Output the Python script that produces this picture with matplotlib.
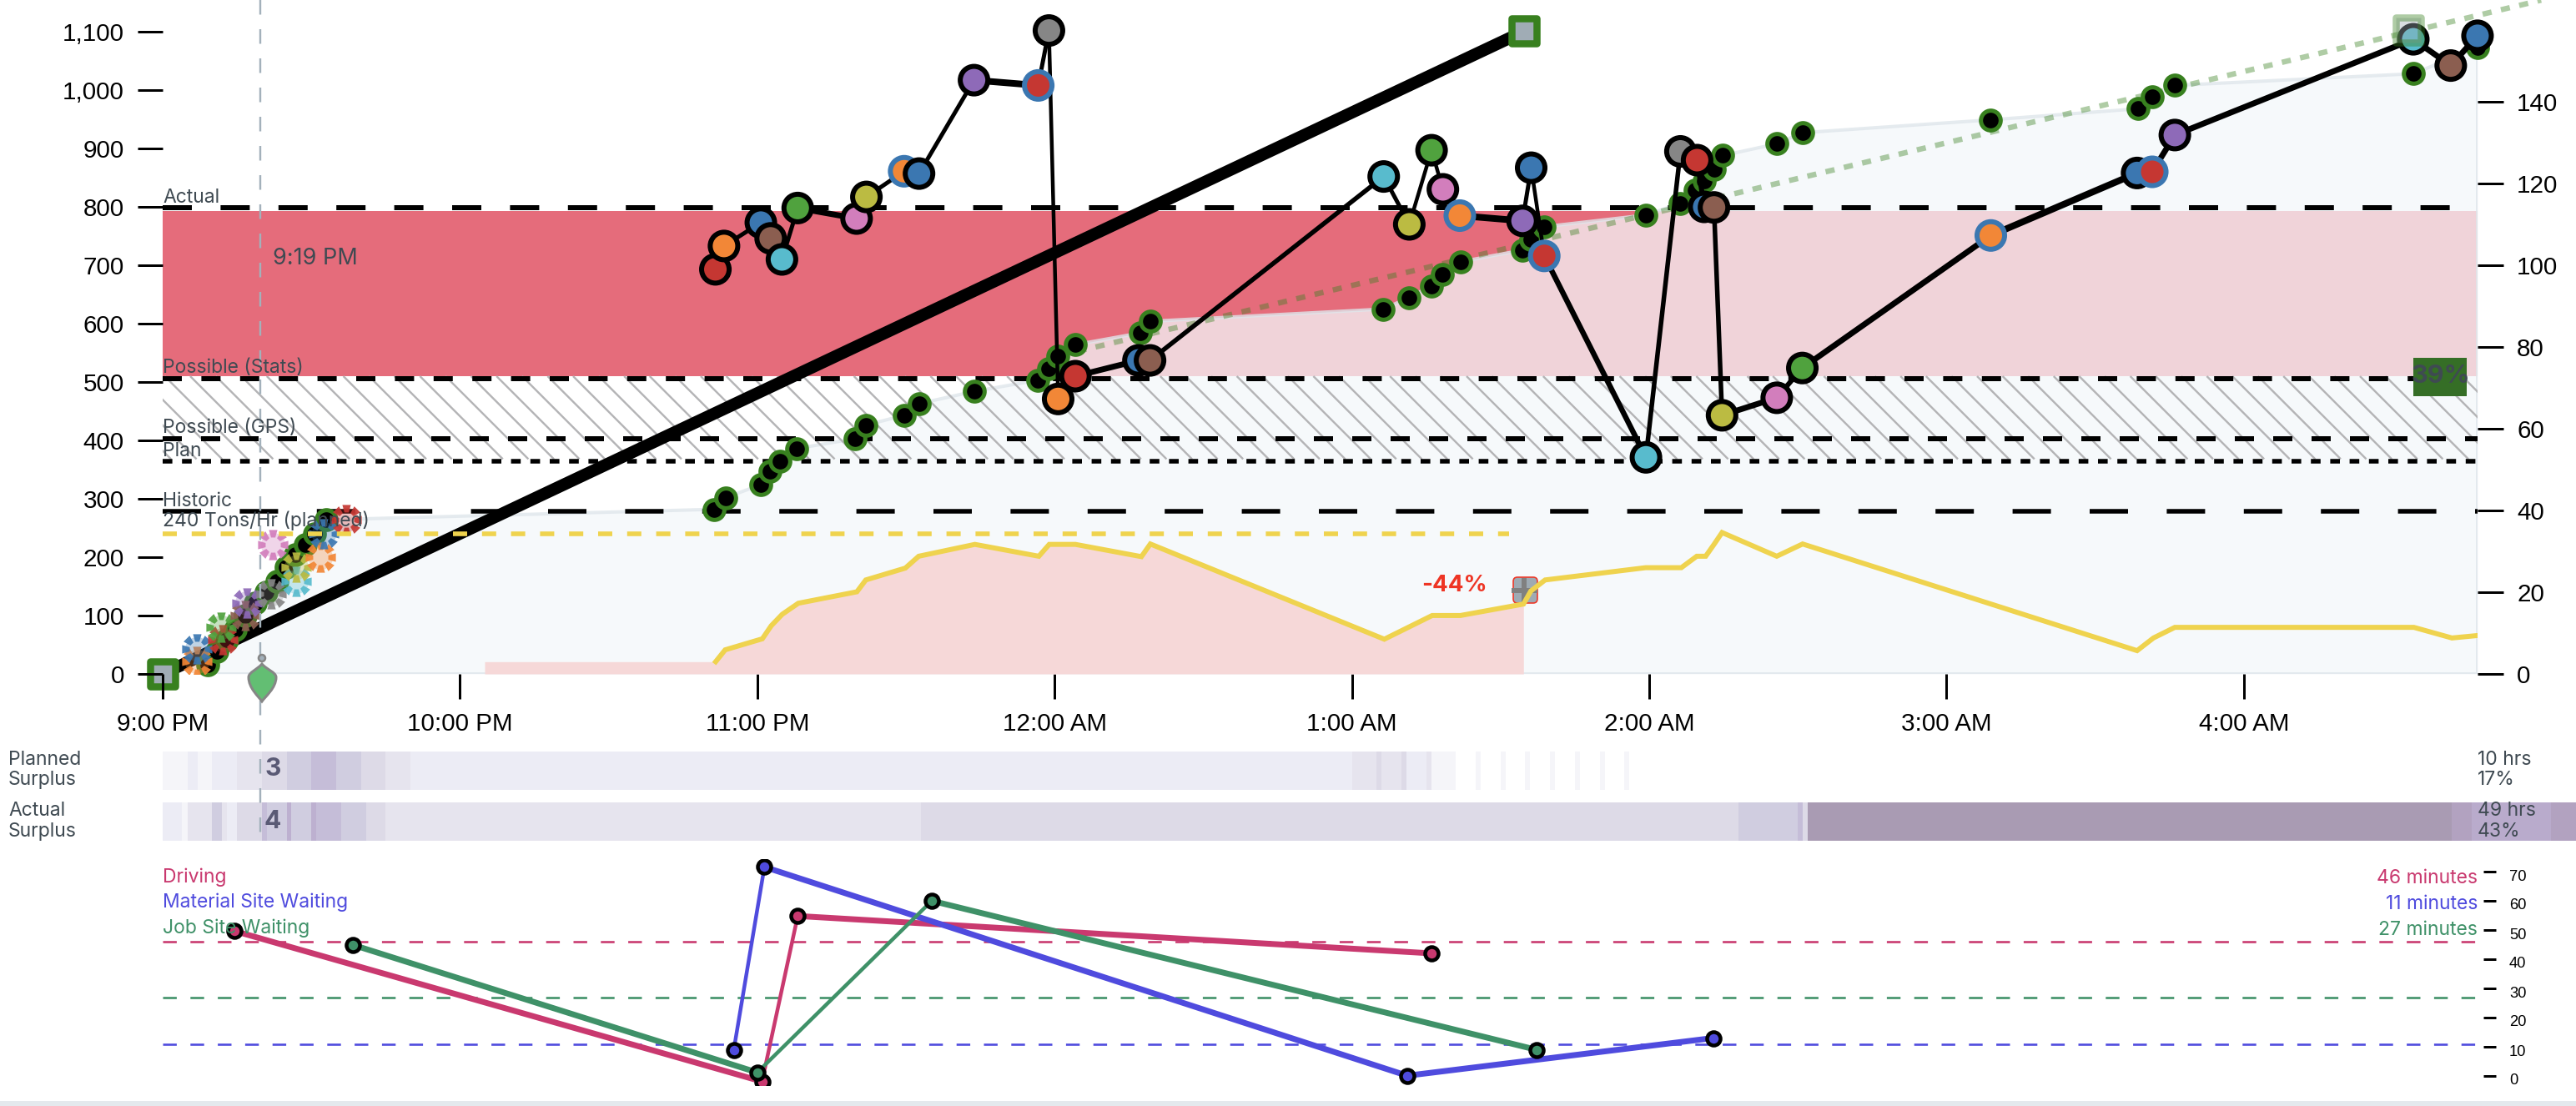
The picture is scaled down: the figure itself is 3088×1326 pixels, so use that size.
import numpy as np
import matplotlib
matplotlib.use("Agg")
import matplotlib.pyplot as plt
from matplotlib.collections import LineCollection
from matplotlib.lines import Line2D
from matplotlib.patches import PathPatch, Rectangle, FancyBboxPatch, Circle
from matplotlib.path import Path
from matplotlib.transforms import Affine2D, IdentityTransform, ScaledTranslation, blended_transform_factory

# ---------- data ----------
hour_ticks = [0, 1, 2, 3, 4, 5, 6, 7]
hour_labels = ["9:00 PM", "10:00 PM", "11:00 PM", "12:00 AM", "1:00 AM", "2:00 AM", "3:00 AM", "4:00 AM"]
tons_ticks = list(range(0, 1101, 100))
rate_ticks = list(range(0, 141, 20))
min_ticks = list(range(0, 71, 10))

target_values = [798, 506, 403, 365, 279]
target_names = ["Actual", "Possible (Stats)", "Possible (GPS)", "Plan", "Historic"]
planned_rate = 240
band_top, band_mid, band_bottom = 793, 510, 368

actual_hours = [0.151, 0.182, 0.216, 0.244, 0.278, 0.311, 0.348, 0.384, 0.415, 0.446, 0.479, 0.510, 0.550,
                1.856, 1.894, 2.011, 2.044, 2.077, 2.132, 2.330, 2.364, 2.494, 2.544, 2.730, 2.943, 2.980,
                3.012, 3.070, 3.288, 3.322, 4.106, 4.193, 4.268, 4.304, 4.365, 4.574, 4.602, 4.647, 4.989,
                5.105, 5.155, 5.186, 5.220, 5.248, 5.429, 5.515, 6.147, 6.643, 6.692, 6.768, 7.570, 7.786]
actual_tons = [16, 38, 59, 76, 100, 121, 140, 159, 183, 204, 221, 240, 264,
               282, 302, 324, 347, 364, 386, 403, 426, 443, 463, 484, 503, 523,
               545, 564, 584, 604, 625, 645, 665, 685, 706, 726, 744, 766, 786,
               806, 828, 845, 864, 888, 908, 927, 949, 968, 988, 1008, 1028, 1073]

plan_hours = [0, 4.58]
plan_tons = [0, 1101]
proj_hours = [3.015, 8.0]
proj_tons = [545, 1154]
proj_end_hour, proj_end_tons = 7.553, 1103

load_hours = [1.859, 1.888, 2.012, 2.045, 2.083, 2.136, 2.334, 2.367, 2.494, 2.544, 2.729, 2.945, 2.981,
              3.012, 3.070, 3.282, 3.321, 4.107, 4.193, 4.268, 4.306, 4.363, 4.574, 4.603, 4.647, 4.989,
              5.105, 5.161, 5.185, 5.218, 5.245, 5.429, 5.515, 6.149, 6.641, 6.692, 6.768, 7.570, 7.696, 7.786]
load_tons = [693, 733, 773, 746, 710, 798, 780, 817, 861, 857, 1017, 1008, 1102,
             471, 510, 537, 537, 852, 770, 897, 830, 785, 776, 867, 716, 371,
             895, 880, 800, 799, 443, 473, 524, 751, 858, 860, 923, 1087, 1042, 1093]
load_colors = ["red", "orange", "blue", "brown", "cyan", "green", "pink", "olive", "orange", "blue", "purple", "red", "gray",
               "orange", "red", "blue", "brown", "cyan", "olive", "green", "pink", "orange", "purple", "blue", "red", "cyan",
               "gray", "red", "blue", "brown", "olive", "pink", "green", "orange", "blue", "red", "purple", "cyan", "brown", "blue"]
load_flagged = [8, 11, 21, 24, 33, 35]
load_widths = [5, 5, 5, 5, 5, 7, 6, 5, 5, 5, 8, 5, 4.5, 6, 7, 7, 5.5, 5, 4.5, 4.5, 6, 8, 5, 4.5, 6.5, 5.5, 6, 6, 6, 5.5, 7, 6, 7, 8, 8, 7, 7, 7, 7]

early_hours = [0.115, 0.115, 0.202, 0.196, 0.278, 0.283, 0.365, 0.449, 0.449, 0.530, 0.370, 0.541, 0.617]
early_tons = [21, 43, 59, 80, 100, 121, 137, 159, 183, 200, 221, 240, 264]
early_colors = ["orange", "blue", "red", "green", "brown", "purple", "gray", "cyan", "olive", "orange", "pink", "blue", "red"]

rate_hours = [1.860, 1.892, 2.017, 2.047, 2.084, 2.138, 2.335, 2.365, 2.498, 2.543, 2.732, 2.947, 2.982, 3.070,
              3.292, 3.322, 4.109, 4.270, 4.365, 4.577, 4.602, 4.650, 4.988, 5.108, 5.160, 5.190, 5.218, 5.245,
              5.429, 5.516, 6.641, 6.696, 6.768, 7.572, 7.700, 7.786]
rate_vals = [3.0, 5.9, 8.6, 11.8, 14.6, 17.3, 20.1, 23.0, 25.9, 28.8, 31.7, 28.8, 31.7, 31.7,
             28.7, 31.8, 8.5, 14.3, 14.3, 17.1, 20.3, 23.0, 26.0, 26.0, 28.8, 28.8, 31.7, 34.6,
             28.8, 31.8, 5.7, 8.8, 11.4, 11.4, 8.8, 9.4]
deficit_start, deficit_level, deficit_end = 1.083, 3.0, 4.577

cur_hour = 0.327
planned_edges = [0, 5, 7, 10, 15, 20, 25, 30, 35, 40, 45, 50, 240, 245, 246, 250, 251, 255, 256, 261,
                 265, 266, 270, 271, 275, 276, 280, 281, 285, 286, 290, 291, 295, 296]
planned_levels = [0, 1, 0, 1, 2, 3, 4, 5, 4, 3, 2, 1, 2, 3, 2, 3, 1, 2, 0, None,
                  0, None, 0, None, 0, None, 0, None, 0, None, 0, None, 0]
actual_edges = [0, 3.9, 5, 10, 12, 13, 15, 20, 21, 25, 26, 30, 31, 36, 41, 45, 153, 318, 330, 331, 332, 462, 466, 482, 487]
actual_levels = [1, 0, 2, 4, 2, 1, 3, 5, 4, 6, 4, 6, 5, 4, 3, 2, 3, 4, 5, 3, 9, 8, 7, 8]

drive_hours, drive_vals = [0.240, 2.016, 2.136, 4.268], [49.7, -1.9, 54.8, 42]
drive_widths = [7, 4.5, 7]
mat_hours, mat_vals = [1.921, 2.024, 4.186, 5.215], [9, 71.6, 0.1, 13]
mat_widths = [4.5, 7, 7]
job_hours, job_vals = [0.640, 2.000, 2.587, 4.620], [44.9, 1.2, 60, 9]
job_widths = [7, 4.5, 7]
drive_mean, mat_mean, job_mean = 46, 11, 27

# ---------- set-up ----------
plt.rcParams["lines.scale_dashes"] = False
W, H = 3088, 1326
P = 0.72  # pixels to points at dpi 100
fig = plt.figure(figsize=(W / 100, H / 100), dpi=100, facecolor="white")
px = Affine2D().scale(1, -1).translate(0, H)

INK = "#3F4A52"
TICKFONT = "Liberation Sans"
UI = "Inter"
TAB = {"red": "#C53732", "orange": "#F28737", "blue": "#3B77B1", "brown": "#8B5E50", "cyan": "#58BBCD",
       "green": "#50A23E", "pink": "#D27EBC", "olive": "#BBBB42", "purple": "#8E6AB8", "gray": "#868686"}
L, R, BASE = 195, 2970, 808
XMAX = (R - L) / 356.4


def T(x, y, s, **kw):
    kw.setdefault("family", UI)
    kw.setdefault("color", INK)
    kw.setdefault("fontsize", 16.5)
    kw.setdefault("va", "baseline")
    return fig.text(x, y, s, transform=px, **kw)


ax = fig.add_axes([L / W, (H - BASE) / H, (R - L) / W, BASE / H])
ax.set_xlim(0, XMAX)
ax.set_ylim(0, BASE / 0.7)
ax.patch.set_visible(False)
for s in ax.spines.values():
    s.set_visible(False)
ax.set_xticks(hour_ticks, hour_labels, family=TICKFONT, fontsize=21.3)
ax.set_yticks(tons_ticks, [f"{v:,}" for v in tons_ticks], family=TICKFONT, fontsize=21.3)
ax.tick_params(axis="both", length=30 * P, width=3 * P, pad=16 * P)
ax.xaxis.set_zorder(20)
ax.yaxis.set_zorder(20)

# bands and area
ax.fill_between([0, XMAX], band_mid, band_top, color="#E56C7B", lw=0, zorder=1)
ax.fill_between(actual_hours + [XMAX], actual_tons + [actual_tons[-1]], 0, color="#F4F7FA", alpha=0.75, lw=0, zorder=2)
ax.plot([actual_hours[0]] + actual_hours + [XMAX, XMAX, actual_hours[0]],
        [0] + actual_tons + [actual_tons[-1], 0, 0], color="#DFE6EB", lw=4 * P, alpha=0.8, zorder=2.1)

hatch_tf = blended_transform_factory(IdentityTransform(), ax.transData)
drop = (band_mid - band_bottom) * 0.7
segs = [[(c, band_mid), (c + drop, band_bottom)] for c in np.arange(L - 120, R + 30, 30.6)]
ax.add_collection(LineCollection(segs, colors="#B4B4B6", linewidths=2.4 * P, transform=hatch_tf, zorder=3), autolim=False)

# reference lines
styles = [(35, 34.4), (23, 23.4), (23, 23), (11.6, 11.6), (46, 46.4)]
thick = [6, 6, 6, 5.5, 5.5]
for v, (on, off), lw in zip(target_values, styles, thick):
    ax.plot([0, XMAX], [v, v], color="black", lw=lw * P, ls=(0, (on * P, off * P)), dash_capstyle="butt", zorder=4)

# thick plan line, projection
ax.plot(plan_hours, plan_tons, color="black", lw=14.5 * P, solid_capstyle="butt", zorder=5)
ax.plot(proj_hours, proj_tons, color="#38801F", alpha=0.4, lw=6.5 * P, ls=(0, (11 * P, 11.5 * P)),
        dash_capstyle="butt", clip_on=False, zorder=5.5)

# actual small markers
ax.scatter(actual_hours, actual_tons, s=290, facecolor="black", edgecolor="#38801F", linewidth=5 * P, zorder=6, clip_on=False)

# early flower markers
flower_v, flower_c = [], []
for k in range(8):
    a = k * np.pi / 4
    w1, w2 = 0.14, 0.28
    pts = [(0.5, -w1), (1.0, -w2), (1.0, w2), (0.5, w1), (0.5, -w1)]
    c, s_ = np.cos(a), np.sin(a)
    for i, (x, y) in enumerate(pts):
        flower_v.append((x * c - y * s_, x * s_ + y * c))
        flower_c.append(Path.MOVETO if i == 0 else (Path.CLOSEPOLY if i == 4 else Path.LINETO))
flower = Path(flower_v, flower_c)
for hh, tt, cc in zip(early_hours, early_tons, early_colors):
    ax.scatter([hh], [tt], s=440, color=TAB[cc], alpha=0.32, linewidth=0, zorder=7)
    ax.scatter([hh], [tt], s=680, marker=flower, color=TAB[cc], alpha=0.92, linewidth=0, zorder=7)

# load path
for i, lw in enumerate(load_widths):
    ax.plot(load_hours[i:i + 2], load_tons[i:i + 2], color="black", lw=lw * P, solid_capstyle="round", zorder=8, clip_on=False)
ax.scatter(load_hours, load_tons, s=566, facecolor=[TAB[c] for c in load_colors],
           edgecolor=["#3B77B1" if i in load_flagged else "black" for i in range(len(load_hours))],
           linewidth=6 * P, zorder=9, clip_on=False)

# squares
ax.scatter([plan_hours[0], plan_hours[1]], [plan_tons[0], plan_tons[1]], marker="s", s=466, facecolor="#A0ACB5",
           edgecolor="#38801F", linewidth=8.5 * P, zorder=10, clip_on=False)
ax.scatter([proj_end_hour], [proj_end_tons], marker="s", s=466, facecolor="#A0ACB5", edgecolor="#38801F",
           linewidth=8.5 * P, alpha=0.4, zorder=10, clip_on=False)

# 39% box
ax.add_patch(Rectangle((7.57, 476), 0.18, 66, facecolor="#356E26", edgecolor="none", zorder=10))

# right axis
ax2 = ax.twinx()
ax2.set_ylim(0, BASE / 4.9)
ax2.patch.set_visible(False)
for s in ax2.spines.values():
    s.set_visible(False)
ax2.set_yticks(rate_ticks, [str(v) for v in rate_ticks], family=TICKFONT, fontsize=21.3)
ax2.tick_params(axis="y", length=31 * P, width=3 * P, pad=16 * P)

rh, rv = np.array(rate_hours), np.array(rate_vals)
m = rh <= deficit_end
ax2.fill_between(np.r_[deficit_start, rh[m]], np.r_[deficit_level, rv[m]], 0, color="#F6D8D8", lw=0, zorder=1)
ax2.add_patch(FancyBboxPatch((1815, 693), 27, 29, boxstyle="round,pad=1,rounding_size=5", facecolor="#9EAAB3",
                             edgecolor="#EE3524", linewidth=1.6 * P, transform=px, zorder=2))
ax2.plot([deficit_end + 0.002] * 2, [17.2, 23.5], color="#808080", lw=6 * P, solid_capstyle="butt", zorder=2.1)
ax2.plot([deficit_end - 0.04, deficit_end + 0.047], [20.4, 20.4], color="#808080", lw=6 * P, solid_capstyle="butt", zorder=2.1)
ax2.plot(rate_hours, rate_vals, color="#EFD34E", lw=6 * P, solid_joinstyle="miter", zorder=3)
ax2.plot([0, 4.53], [planned_rate * 0.7 / 4.9] * 2, color="#EFD34E", lw=5.6 * P,
         ls=(0, (17 * P, 17.8 * P)), dash_capstyle="butt", zorder=3)

# surplus bars
PAL = ["#F5F5F9", "#ECECF5", "#E6E4EE", "#DDDAE7", "#D0CDE0", "#C5BDD8", "#BDB0D0", "#B9ABCC", "#B2A2C0", "#A99BB3"]
axs = fig.add_axes([L / W, (H - 1008) / H, (R - L) / W, 108 / H])
axs.set_xlim(0, (R - L) / 5.94)
axs.set_ylim(0, 108)
axs.axis("off")
for i, lev in enumerate(planned_levels):
    if lev is not None:
        axs.broken_barh([(planned_edges[i], planned_edges[i + 1] - planned_edges[i])], (61.5, 46),
                        facecolor=PAL[lev], linewidth=0, clip_on=False)
for i, lev in enumerate(actual_levels):
    axs.broken_barh([(actual_edges[i], actual_edges[i + 1] - actual_edges[i])], (0, 46),
                    facecolor=PAL[lev], linewidth=0, clip_on=False)

# lower panel
PANEL_T, PANEL_B = 1030, 1301
axl = fig.add_axes([L / W, (H - PANEL_B) / H, (R - L) / W, (PANEL_B - PANEL_T) / H])
axl.set_xlim(0, XMAX)
axl.set_ylim((1290 - PANEL_B) / 3.5, (1290 - PANEL_T) / 3.5)
axl.patch.set_visible(False)
for s in axl.spines.values():
    s.set_visible(False)
axl.set_xticks([])
axl.yaxis.tick_right()
axl.spines["right"].set_position(("outward", 7 * P))
axl.set_yticks(min_ticks, [str(v) for v in min_ticks], family=TICKFONT, fontsize=13.2)
axl.tick_params(axis="y", length=15 * P, width=3 * P, pad=16 * P)
off = ScaledTranslation(0, -4 * P / 72, fig.dpi_scale_trans)
for lab in axl.get_yticklabels():
    lab.set_transform(lab.get_transform() + off)

C_D, C_M, C_J = "#C9396F", "#4F4BDE", "#3F9168"
for mean, col in ((drive_mean, C_D), (job_mean, C_J), (mat_mean, C_M)):
    axl.plot([0, XMAX], [mean, mean], color=col, lw=2.6 * P, ls=(0, (16.4 * P, 16.4 * P)), dash_capstyle="butt", zorder=1)
for hh, vv, ww, col in ((drive_hours, drive_vals, drive_widths, C_D), (mat_hours, mat_vals, mat_widths, C_M),
                        (job_hours, job_vals, job_widths, C_J)):
    for i, lw in enumerate(ww):
        axl.plot(hh[i:i + 2], vv[i:i + 2], color=col, lw=lw * P, solid_capstyle="butt", zorder=2)
for hh, vv, col, z in ((drive_hours, drive_vals, C_D, 3), (mat_hours, mat_vals, C_M, 3), (job_hours, job_vals, C_J, 4)):
    axl.scatter(hh, vv, s=(16 * P) ** 2, facecolor=col, edgecolor="black", linewidth=4.5 * P, zorder=z)

# current-time rule
cur_tf = blended_transform_factory(ax.transData, px)
fig.add_artist(Line2D([cur_hour, cur_hour], [0, 1008], transform=cur_tf, color="#A3B1BB", lw=2.4 * P,
                      ls=(0, (17.5 * P, 17.5 * P)), dash_capstyle="butt", zorder=3))

# pin
pin = Path([(314, 796), (308, 803), (298, 806), (298, 812), (298, 825), (310, 835), (314, 841), (318, 835), (331, 825),
            (331, 812), (331, 806), (320, 803), (314, 796), (314, 796)],
           [Path.MOVETO] + [Path.CURVE4] * 12 + [Path.CLOSEPOLY])
fig.add_artist(PathPatch(pin, facecolor="#63BE73", edgecolor="#868686", linewidth=3 * P, transform=px, zorder=4))
fig.add_artist(Circle((314, 789), 4, facecolor="#A3B1BB", edgecolor="#868686", linewidth=2.5 * P, transform=px, zorder=4))

# bottom rule
fig.add_artist(Rectangle((0, 1320), W, 6, facecolor="#E4E9ED", edgecolor="none", transform=px, zorder=1))

# text
for name, base in zip(target_names, [243, 446.7, 519, 546.7, 606.7]):
    T(L, base, name, zorder=12)
T(L, 630.7, "240 Tons/Hr (planned)", zorder=12)
T(327, 310, "9:19 PM", fontsize=19.5, va="center", zorder=12)
T(1743.6, 702, "-44%", color="#EE3524", fontsize=20, weight="bold", ha="center", va="center", zorder=12)
T(2926, 451, "39%", fontsize=22, weight="bold", ha="center", va="center", zorder=12)
T(327, 922, "3", color="#5A5A75", fontsize=21.6, weight="bold", ha="center", va="center", zorder=12)
T(327, 985, "4", color="#5A5A75", fontsize=21.6, weight="bold", ha="center", va="center", zorder=12)
for y, s in ((911, "Planned"), (935, "Surplus"), (972, "Actual"), (997, "Surplus")):
    T(10, y, s, va="center")
for y, s in ((911, "10 hrs"), (935, "17%"), (972, "49 hrs"), (997, "43%")):
    T(R, y, s, va="center", zorder=12)
for y, s, c in ((1052, "Driving", C_D), (1082, "Material Site Waiting", C_M), (1113, "Job Site Waiting", C_J)):
    T(L, y, s, color=c, va="center", zorder=1.5)
for y, s, c in ((1053, f"{drive_mean} minutes", C_D), (1084.5, f"{mat_mean} minutes", C_M), (1115, f"{job_mean} minutes", C_J)):
    T(R, y, s, color=c, va="center", ha="right")

fig.savefig("out.png", dpi=100)
